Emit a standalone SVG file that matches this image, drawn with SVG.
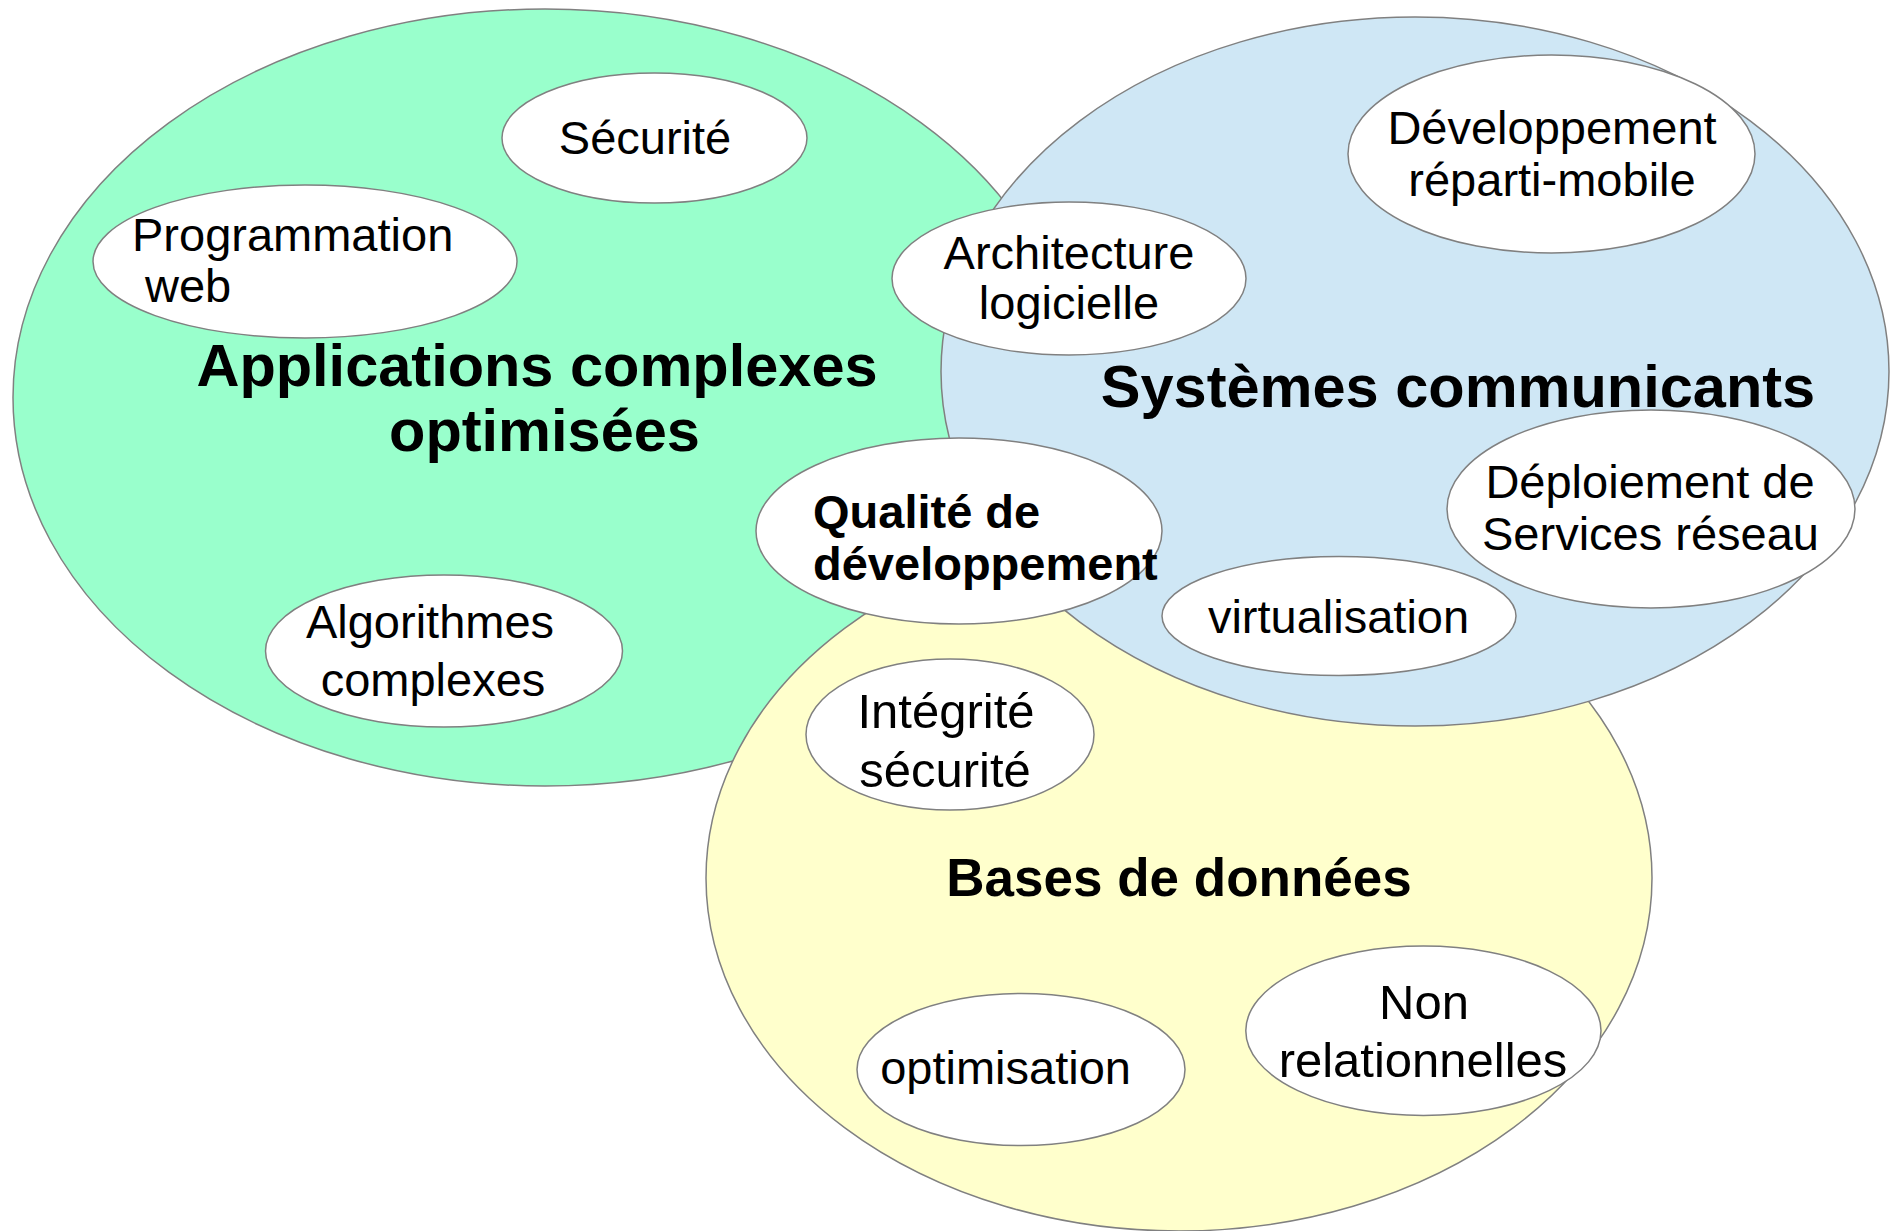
<svg xmlns="http://www.w3.org/2000/svg" width="1893" height="1231" viewBox="0 0 1893 1231">
  <style>
    .big { stroke: #808080; stroke-width: 1.5; }
    .node ellipse { fill: #ffffff; stroke: #808080; stroke-width: 1.5; }
    text { font-family: "Liberation Sans", Arial, sans-serif; fill: #000000; }
    .t { font-size: 47px; }
    .t2 { font-size: 49px; }
    .h { font-size: 59.5px; font-weight: bold; }
    .h2 { font-size: 53px; font-weight: bold; }
    .b { font-size: 47px; font-weight: bold; }
    .c { text-anchor: middle; }
  </style>
  <rect width="1893" height="1231" fill="#ffffff"/>

  <g id="domain-applications">
    <ellipse class="big" cx="545" cy="397.5" rx="532" ry="388.5" fill="#99ffcc"/>
  </g>
  <g id="domain-bases">
    <ellipse class="big" cx="1179" cy="878" rx="473" ry="353" fill="#ffffcc"/>
  </g>
  <g id="domain-systemes">
    <ellipse class="big" cx="1415" cy="371.5" rx="474" ry="354.5" fill="#cfe7f5"/>
  </g>

  <g id="label-applications">
    <text class="h c" x="537" y="385.5">Applications complexes</text>
    <text class="h c" x="544.5" y="451">optimisées</text>
  </g>
  <g id="label-systemes">
    <text class="h c" x="1458" y="407">Systèmes communicants</text>
  </g>
  <g id="label-bases">
    <text class="h2 c" x="1179" y="896">Bases de données</text>
  </g>

  <g id="connectors"></g>

  <g id="node-securite" class="node">
    <ellipse cx="654.5" cy="138" rx="152.5" ry="65"/>
    <text class="t c" x="645" y="154">Sécurité</text>
  </g>
  <g id="node-programmation" class="node">
    <ellipse cx="305" cy="261.5" rx="212" ry="76.5"/>
    <text class="t" x="132" y="251">Programmation</text>
    <text class="t" x="145" y="302">web</text>
  </g>
  <g id="node-algorithmes" class="node">
    <ellipse cx="444" cy="651" rx="178.5" ry="76"/>
    <text class="t c" x="430" y="638">Algorithmes</text>
    <text class="t c" x="433" y="696">complexes</text>
  </g>
  <g id="node-architecture" class="node">
    <ellipse cx="1069" cy="278.5" rx="177" ry="76.5"/>
    <text class="t c" x="1069" y="269">Architecture</text>
    <text class="t c" x="1069" y="319">logicielle</text>
  </g>
  <g id="node-developpement-reparti" class="node">
    <ellipse cx="1551.5" cy="154" rx="203.5" ry="99"/>
    <text class="t c" x="1552" y="144">Développement</text>
    <text class="t c" x="1552" y="196">réparti-mobile</text>
  </g>
  <g id="node-deploiement" class="node">
    <ellipse cx="1651" cy="509" rx="204" ry="99"/>
    <text class="t c" x="1650" y="497.5">Déploiement de</text>
    <text class="t c" x="1650.5" y="549.6">Services réseau</text>
  </g>
  <g id="node-virtualisation" class="node">
    <ellipse cx="1339" cy="616" rx="177" ry="59.5"/>
    <text class="t c" x="1338.5" y="632.7">virtualisation</text>
  </g>
  <g id="node-qualite" class="node">
    <ellipse cx="959" cy="531" rx="203" ry="93"/>
    <text class="b" x="813" y="527.5">Qualité de</text>
    <text class="b" x="813" y="580">développement</text>
  </g>
  <g id="node-integrite" class="node">
    <ellipse cx="950" cy="734.5" rx="144" ry="75.5"/>
    <text class="t2 c" x="946" y="728">Intégrité</text>
    <text class="t2 c" x="945" y="787">sécurité</text>
  </g>
  <g id="node-optimisation" class="node">
    <ellipse cx="1021" cy="1069.5" rx="164" ry="76"/>
    <text class="t c" x="1005.6" y="1084">optimisation</text>
  </g>
  <g id="node-non-relationnelles" class="node">
    <ellipse cx="1423.4" cy="1030.7" rx="177.6" ry="84.7"/>
    <text class="t2 c" x="1424" y="1018.7">Non</text>
    <text class="t2 c" x="1423" y="1076.5">relationnelles</text>
  </g>
</svg>
